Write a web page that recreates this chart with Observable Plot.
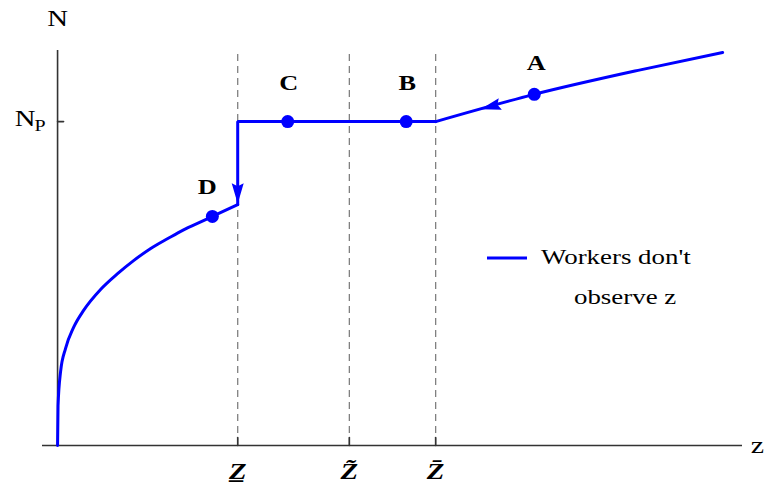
<!DOCTYPE html>
<html>
<head>
<meta charset="utf-8">
<script src="https://cdn.jsdelivr.net/npm/d3@7"></script>
<script src="https://cdn.jsdelivr.net/npm/@observablehq/plot@0.6"></script>
<style>
  body { margin: 0; background: #fff; }
  #chart { width: 764px; height: 486px; }
</style>
</head>
<body>
<div id="chart"></div>
<script>
// Thresholds on the z axis and their labels (Z underline, Z tilde, Z bar)
const zTicks = [0.263, 0.426, 0.552];
const zTickLabels = ["Z\u0332", "Z\u0303", "Z\u0304"];

// Pooling level of employment
const Np = 0.82;

// Low branch of N(z), below the lower threshold
const lowX = [0, 0.0007, 0.0044, 0.0117, 0.0234, 0.038, 0.0628, 0.0876, 0.111, 0.136, 0.161, 0.184, 0.209, 0.226, 0.263];
const lowY = [0, 0.101, 0.187, 0.246, 0.299, 0.342, 0.395, 0.435, 0.468, 0.499, 0.524, 0.546, 0.566, 0.580, 0.610];

// Jump up to Np and the flat stretch
const jumpX = [0.263, 0.263, 0.552];
const jumpY = [0.610, Np, Np];

// High branch above the upper threshold
const highX = [0.552, 0.696, 0.851, 0.971];
const highY = [Np, 0.889, 0.951, 0.995];

// Labelled states
const pointNames = ["A", "B", "C", "D"];
const pointX = [0.696, 0.509, 0.336, 0.226];
const pointY = [0.889, Np, Np, 0.580];

// Direction-of-motion arrowheads (angle in degrees, clockwise from up)
const arrowX = [0.263, 0.632];
const arrowY = [0.638, 0.858];
const arrowAngle = [180, 255];

const blue = "#0000ff";
const axisColor = "#333";

const low = lowX.map((x, i) => ({x, y: lowY[i]}));
const jump = jumpX.map((x, i) => ({x, y: jumpY[i]}));
const high = highX.map((x, i) => ({x, y: highY[i]}));
const points = pointNames.map((name, i) => ({name, x: pointX[i], y: pointY[i]}));
const arrows = arrowX.map((x, i) => ({x, y: arrowY[i], angle: arrowAngle[i]}));
const ticks = zTicks.map((z, i) => ({z, label: zTickLabels[i]}));

// Plain tick stroke for vector marks
const tickShape = {draw(ctx, l) { ctx.moveTo(0, 0); ctx.lineTo(0, -l); }};
// Notched arrowhead pointing up, scaled from the dot radius
const arrowHead = {
  draw(ctx, size) {
    const r = Math.sqrt(size / Math.PI);
    ctx.moveTo(0, -1.7 * r);
    ctx.lineTo(r, 1.7 * r);
    ctx.lineTo(0, 1.2 * r);
    ctx.lineTo(-r, 1.7 * r);
    ctx.closePath();
  }
};

const labelFont = {fontSize: 21, fontWeight: "bold", fill: "black"};

const chart = Plot.plot({
  width: 764,
  height: 486,
  marginLeft: 42,
  marginRight: 22,
  marginTop: 50,
  marginBottom: 41,
  x: {domain: [-0.022, 1], axis: null},
  y: {domain: [0, 1], axis: null},
  style: {fontFamily: "Liberation Serif", background: "white", color: "black", overflow: "visible"},
  marks: [
    // dashed threshold guides
    Plot.ruleX(ticks, {x: "z", y1: 0, y2: 1, stroke: "#808080", strokeWidth: 1.3, strokeDasharray: "7,5"}),
    // axes
    Plot.ruleY([0], {stroke: axisColor, strokeWidth: 1.6}),
    Plot.ruleX([0], {y1: 0, y2: 1, stroke: axisColor, strokeWidth: 1.6}),
    Plot.vector(ticks, {x: "z", y: 0, length: 8, anchor: "start", rotate: 0, shape: tickShape, stroke: axisColor, strokeWidth: 1.6}),
    Plot.vector([Np], {x: 0, y: d => d, length: 6, anchor: "start", rotate: 90, shape: tickShape, stroke: axisColor, strokeWidth: 1.6}),
    Plot.text(ticks, {x: "z", y: 0, text: "label", dy: 26, fontSize: 23, fontWeight: "bold", fontStyle: "italic"}),
    Plot.text(["N"], {x: 0, y: 1, text: d => d, dy: -32, fontSize: 23}),
    Plot.text(["z"], {x: 1, y: 0, text: d => d, dx: 15, dy: 0, fontSize: 24}),
    Plot.text(["N"], {x: 0, y: Np, text: d => d, textAnchor: "end", dx: -22, dy: -3, fontSize: 23}),
    Plot.text(["P"], {x: 0, y: Np, text: d => d, textAnchor: "start", dx: -23, dy: 4, fontSize: 16}),
    // N(z) when workers don't observe z
    Plot.line(low, {x: "x", y: "y", stroke: blue, strokeWidth: 3, curve: "monotone-x"}),
    Plot.line(jump, {x: "x", y: "y", stroke: blue, strokeWidth: 3, strokeLinejoin: "miter"}),
    Plot.line(high, {x: "x", y: "y", stroke: blue, strokeWidth: 3, curve: "monotone-x"}),
    Plot.dot(arrows, {x: "x", y: "y", r: 6, symbol: arrowHead, rotate: "angle", fill: blue, stroke: "none"}),
    Plot.dot(points, {x: "x", y: "y", r: 6.5, fill: blue, stroke: "none"}),
    Plot.text(points, {filter: d => d.name === "A", x: "x", y: "y", text: "name", dy: -31, dx: 2, ...labelFont}),
    Plot.text(points, {filter: d => d.name === "B" || d.name === "C", x: "x", y: "y", text: "name", dy: -38, dx: 1, ...labelFont}),
    Plot.text(points, {filter: d => d.name === "D", x: "x", y: "y", text: "name", dy: -29, dx: -5, ...labelFont})
  ]
});

document.getElementById("chart").appendChild(chart);

// Legend inside the plot area
const svg = d3.select(chart);
const legend = svg.append("g")
  .attr("font-family", "Liberation Serif")
  .attr("font-size", 21.5)
  .attr("text-anchor", "start");
legend.append("line").attr("x1", 487).attr("x2", 527).attr("y1", 258).attr("y2", 258)
  .attr("stroke", blue).attr("stroke-width", 3);
legend.append("text").attr("x", 541).attr("y", 264).text("Workers don't");
legend.append("text").attr("x", 574).attr("y", 304).text("observe z");

// Widen all lettering slightly to the figure's proportions
svg.selectAll("text").each(function () {
  const w = this.getComputedTextLength();
  if (w > 0) {
    this.setAttribute("textLength", (w * 1.25).toFixed(1));
    this.setAttribute("lengthAdjust", "spacingAndGlyphs");
  }
});
</script>
</body>
</html>
